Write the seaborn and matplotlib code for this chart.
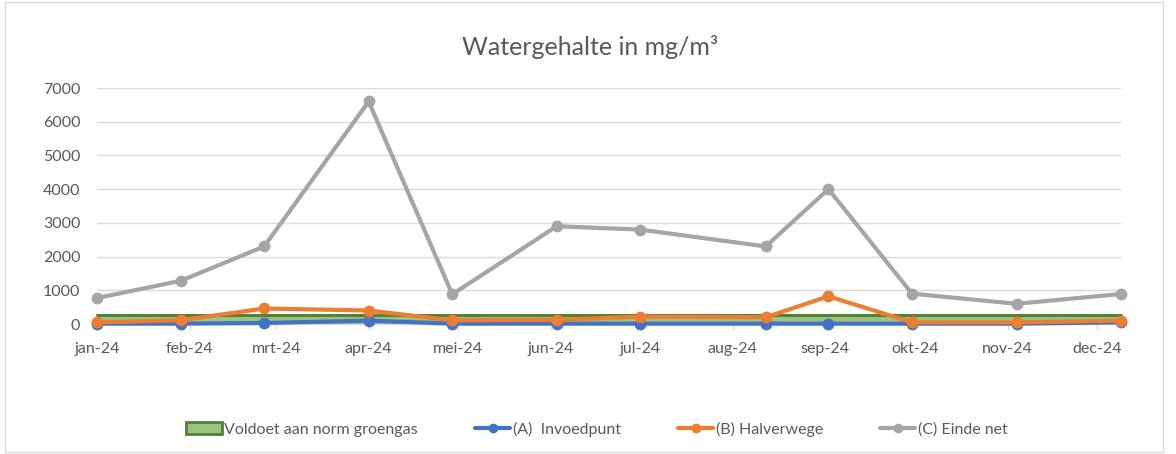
import matplotlib
matplotlib.use("Agg")
import matplotlib.pyplot as plt
import matplotlib.dates as mdates
from matplotlib.patches import Patch, Rectangle
from matplotlib.lines import Line2D
import seaborn as sns
import pandas as pd

# ---- data ----
meet_datums = ["2024-01-01", "2024-01-29", "2024-02-26", "2024-04-01", "2024-04-29", "2024-06-03",
               "2024-07-01", "2024-08-12", "2024-09-02", "2024-09-30", "2024-11-04", "2024-12-09"]
norm_groengas = [260, 260, 260, 260, 260, 260, 260, 260, 260, 260, 260, 260]
a_invoedpunt = [10, 10, 30, 100, 10, 10, 10, 10, 10, 10, 10, 50]
b_halverwege = [50, 110, 460, 400, 110, 120, 220, 200, 820, 50, 50, 100]
c_einde_net = [770, 1280, 2300, 6600, 880, 2900, 2800, 2300, 4000, 900, 600, 890]
tick_maanden = ["2024-01-01", "2024-02-01", "2024-03-01", "2024-04-01", "2024-05-01", "2024-06-01",
                "2024-07-01", "2024-08-01", "2024-09-01", "2024-10-01", "2024-11-01", "2024-12-01"]
tick_labels = ["jan-24", "feb-24", "mrt-24", "apr-24", "mei-24", "jun-24",
               "jul-24", "aug-24", "sep-24", "okt-24", "nov-24", "dec-24"]
y_ticks = [0, 1000, 2000, 3000, 4000, 5000, 6000, 7000]
titel = "Watergehalte in mg/m³"
namen = ["Voldoet aan norm groengas", "(A)  Invoedpunt", "(B) Halverwege", "(C) Einde net"]

# ---- style ----
sns.set_theme(style="white")
plt.rcParams["font.family"] = ["Lato", "DejaVu Sans"]
txt = "#595959"
grid = "#D9D9D9"
c_blue, c_orange, c_gray = "#4472C4", "#ED7D31", "#A5A5A5"
c_fill, c_edge = "#9DC284", "#548235"

W, H = 1176, 454
fig = plt.figure(figsize=(W / 100, H / 100), dpi=100)
ax = fig.add_axes([97 / W, 1 - 324 / H, 1024 / W, (324 - 88) / H])

dates = pd.to_datetime(meet_datums)
df = pd.DataFrame({
    "datum": list(dates) * 3,
    "waarde": a_invoedpunt + b_halverwege + c_einde_net,
    "reeks": [namen[1]] * 12 + [namen[2]] * 12 + [namen[3]] * 12,
})

# green area
ax.fill_between(dates, 0, norm_groengas, facecolor=c_fill, edgecolor="none", zorder=2)
ax.plot(dates, norm_groengas, color=c_edge, lw=2.2, zorder=2.1)

sns.lineplot(data=df, x="datum", y="waarde", hue="reeks",
             palette=[c_blue, c_orange, c_gray], marker="o", markersize=8.5,
             markeredgewidth=0, linewidth=3.0, ax=ax, legend=False, zorder=3)
for ln in ax.lines:
    ln.set_clip_on(False)

ax.set_xlim(dates[0], dates[-1])
ax.set_ylim(0, 7000)
ax.set_yticks(y_ticks)
ax.set_yticklabels([str(v) for v in y_ticks])
ax.set_xticks(pd.to_datetime(tick_maanden))
ax.set_xticklabels(tick_labels)
ax.set_xlabel("")
ax.set_ylabel("")

ax.grid(axis="y", color=grid, lw=1.0, zorder=0)
ax.grid(axis="x", visible=False)
for s in ["top", "right", "left"]:
    ax.spines[s].set_visible(False)
ax.spines["bottom"].set_color(grid)
ax.spines["bottom"].set_linewidth(1.0)
ax.spines["bottom"].set_zorder(1)
ax.tick_params(axis="y", length=0, pad=12, labelsize=11.5, labelcolor=txt)
ax.tick_params(axis="x", length=4, width=1, color=grid, direction="out", bottom=True,
               pad=9, labelsize=11.5, labelcolor=txt)

fig.text(590 / W, 1 - 47 / H, titel, ha="center", va="center", fontsize=18, color=txt)

handles = [
    Patch(facecolor=c_fill, edgecolor=c_edge, linewidth=2),
    Line2D([0], [0], color=c_blue, lw=3, marker="o", markersize=6),
    Line2D([0], [0], color=c_orange, lw=3, marker="o", markersize=6),
    Line2D([0], [0], color=c_gray, lw=3, marker="o", markersize=6),
]
fig.legend(handles, namen, loc="center", bbox_to_anchor=(597 / W, 1 - 429 / H), ncol=4,
           frameon=False, fontsize=11.5, labelcolor=txt, handlelength=2.2,
           handletextpad=0.15, columnspacing=3.6, handleheight=0.8)

fig.add_artist(Rectangle((5 / W, 2 / H), 1158 / W, 450 / H, transform=fig.transFigure,
                         fill=False, edgecolor=grid, lw=1.0))

fig.savefig("out.png", dpi=100)
